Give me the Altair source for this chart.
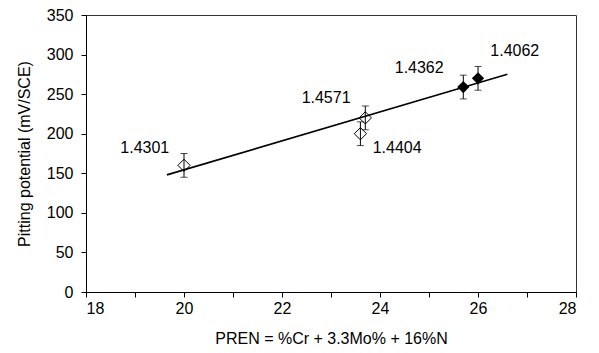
import altair as alt
import pandas as pd

# Data
grades = ["1.4301", "1.4404", "1.4571", "1.4362", "1.4062"]
pren = [20.0, 23.6, 23.7, 25.7, 26.0]
e_pit = [160, 200, 220, 259, 270]
err = [15, 15, 15, 15, 15]
filled = [False, False, False, True, True]
label_x = [19.2, 24.35, 22.9, 24.8, 26.75]
label_y = [182, 182, 245, 283, 304]
fit_x = [19.65, 26.6]
fit_y = [148, 275]
x_ticks = list(range(18, 29))
y_ticks = [0, 50, 100, 150, 200, 250, 300, 350]

FONT = "Liberation Sans"

df = pd.DataFrame({
    "grade": grades,
    "pren": pren,
    "epit": e_pit,
    "lo": [v - e for v, e in zip(e_pit, err)],
    "hi": [v + e for v, e in zip(e_pit, err)],
    "filled": filled,
    "lx": label_x,
    "ly": label_y,
})
fit = pd.DataFrame({"pren": fit_x, "epit": fit_y})

xscale = alt.Scale(domain=[18, 28], nice=False, zero=False)
yscale = alt.Scale(domain=[0, 350], nice=False, zero=True)

xaxis = alt.Axis(
    values=x_ticks,
    labelExpr="datum.value % 2 == 0 ? datum.label : ''",
    title="PREN = %Cr + 3.3Mo% + 16%N",
    titlePadding=14,
    tickSize=5,
    labelPadding=3,
    labelOverlap=False,
)
yaxis = alt.Axis(
    values=y_ticks,
    title="Pitting potential (mV/SCE)",
    titlePadding=14,
    tickSize=5,
    labelPadding=8,
    labelOverlap=False,
    labelBound=False,
)


def X(field):
    return alt.X(field, type="quantitative", scale=xscale, axis=xaxis)


def Y(field):
    return alt.Y(field, type="quantitative", scale=yscale, axis=yaxis)


base = alt.Chart(df)

line = alt.Chart(fit).mark_line(color="black", strokeWidth=1.6).encode(
    x=X("pren"), y=Y("epit"),
)

bars = base.mark_rule(color="black", strokeWidth=1).encode(
    x=X("pren"), y=Y("lo"), y2="hi:Q",
)
cap_lo = base.mark_tick(color="black", orient="horizontal", size=7, thickness=1).encode(
    x=X("pren"), y=Y("lo"),
)
cap_hi = base.mark_tick(color="black", orient="horizontal", size=7, thickness=1).encode(
    x=X("pren"), y=Y("hi"),
)

open_pts = base.transform_filter("!datum.filled").mark_point(
    shape="diamond", size=150, filled=False, color="black", strokeWidth=1, opacity=1
).encode(x=X("pren"), y=Y("epit"))
solid_pts = base.transform_filter("datum.filled").mark_point(
    shape="diamond", size=150, filled=True, color="black", opacity=1
).encode(x=X("pren"), y=Y("epit"))

labels = base.mark_text(
    font=FONT, fontSize=16, align="center", baseline="middle", color="black"
).encode(x=X("lx"), y=Y("ly"), text="grade:N")

chart = alt.layer(line, bars, cap_lo, cap_hi, open_pts, solid_pts, labels).properties(
    width=490,
    height=277,
    padding={"left": 78, "top": 7, "right": 15, "bottom": 53},
    autosize=alt.AutoSizeParams(type="none"),
    background="white",
).configure_view(
    stroke="#333333", strokeWidth=1
).configure_axis(
    grid=False,
    domainColor="black",
    tickColor="black",
    labelColor="black",
    titleColor="black",
    labelFont=FONT,
    titleFont=FONT,
    labelFontSize=16,
    titleFontSize=16,
    titleFontWeight="normal",
    labelFontWeight="normal",
    labelOverlap=False,
)

chart.save("out.html", embed_options={"renderer": "svg", "actions": False})
